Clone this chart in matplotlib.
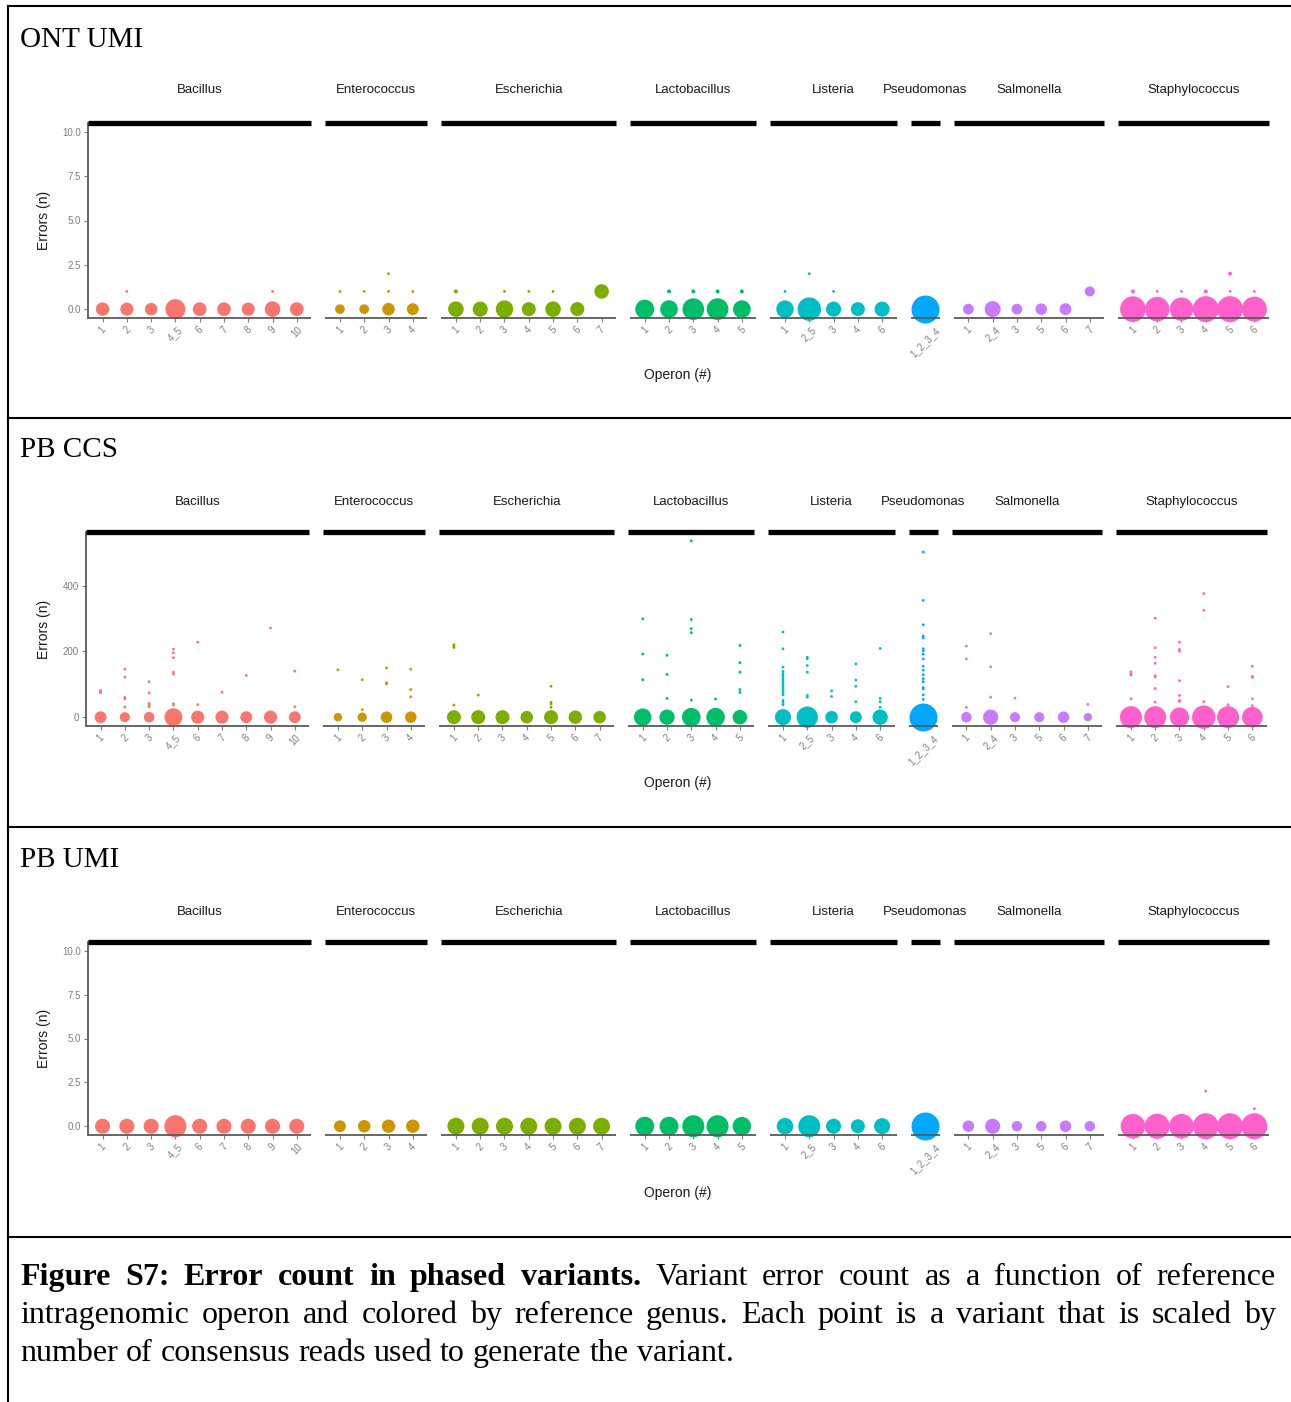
import matplotlib
matplotlib.use("Agg")
import matplotlib.pyplot as plt
from matplotlib.lines import Line2D
import numpy as np

W, H = 1291, 1402

GENERA = ["Bacillus", "Enterococcus", "Escherichia", "Lactobacillus",
          "Listeria", "Pseudomonas", "Salmonella", "Staphylococcus"]
OPERONS = [
    ["1", "2", "3", "4_5", "6", "7", "8", "9", "10"],
    ["1", "2", "3", "4"],
    ["1", "2", "3", "4", "5", "6", "7"],
    ["1", "2", "3", "4", "5"],
    ["1", "2_5", "3", "4", "6"],
    ["1_2_3_4"],
    ["1", "2_4", "3", "5", "6", "7"],
    ["1", "2", "3", "4", "5", "6"],
]
# ggplot default hues
COLORS = ["#F8766D", "#CD9600", "#7CAE00", "#00BE67",
          "#00BFC4", "#00A9FF", "#C77CFF", "#FF61CC"]

# ONT UMI: reads behind the error-free variant of each operon (0 = none)
ONT_ZERO_READS = [
    [23, 22, 20, 51, 24, 24, 22, 31, 24],
    [12, 12, 20, 18],
    [31, 29, 39, 25, 31, 25, 0],
    [46, 40, 60, 60, 40],
    [39, 70, 29, 25, 29],
    [100],
    [15, 33, 15, 17, 18, 0],
    [84, 77, 70, 86, 86, 80],
]
# ONT UMI: variants with errors (genus, operon, errors, reads)
ONT_OTHER = [
    ("Bacillus", "2", 1, 1), ("Bacillus", "9", 1, 1),
    ("Enterococcus", "1", 1, 1), ("Enterococcus", "2", 1, 1),
    ("Enterococcus", "3", 1, 1), ("Enterococcus", "3", 2, 1),
    ("Enterococcus", "4", 1, 1),
    ("Escherichia", "1", 1, 2), ("Escherichia", "3", 1, 1),
    ("Escherichia", "4", 1, 1), ("Escherichia", "5", 1, 1),
    ("Escherichia", "7", 1, 27),
    ("Lactobacillus", "2", 1, 2), ("Lactobacillus", "3", 1, 2),
    ("Lactobacillus", "4", 1, 2), ("Lactobacillus", "5", 1, 2),
    ("Listeria", "1", 1, 1), ("Listeria", "2_5", 2, 1), ("Listeria", "3", 1, 1),
    ("Salmonella", "7", 1, 13),
    ("Staphylococcus", "1", 1, 2), ("Staphylococcus", "2", 1, 1),
    ("Staphylococcus", "3", 1, 1), ("Staphylococcus", "4", 1, 2),
    ("Staphylococcus", "5", 1, 1), ("Staphylococcus", "5", 2, 2),
    ("Staphylococcus", "6", 1, 1),
]

# PB CCS
CCS_ZERO_READS = [
    [18, 13, 14, 41, 22, 22, 18, 22, 18],
    [9, 11, 17, 17],
    [25, 25, 25, 20, 25, 23, 20],
    [39, 30, 44, 44, 27],
    [33, 58, 20, 18, 30],
    [100],
    [14, 30, 13, 13, 17, 9],
    [62, 62, 48, 70, 62, 54],
]
# PB CCS: error counts of the single-read variants, per genus and operon
CCS_ERRORS = [
    [[81, 77, 75], [146, 122, 60, 56, 31], [108, 74, 42, 37, 31],
     [207, 196, 181, 137, 131, 41, 37], [228, 38], [76], [127], [271], [140, 32]],
    [[144], [114, 23], [150, 105, 101], [146, 84, 62]],
    [[220, 216, 212, 37], [67], [], [], [94, 45, 40, 30], [], []],
    [[299, 192, 114], [188, 130, 57], [536, 297, 269, 257, 52], [55],
     [218, 166, 137, 84, 75]],
    [[259, 208, 152, 139, 132, 126, 120, 113, 107, 100, 94, 88, 81, 75, 68, 51, 45, 38],
     [182, 178, 157, 137, 66, 61], [80, 63], [162, 113, 94, 47], [209, 57, 47, 30]],
    [[502, 355, 281, 247, 241, 208, 202, 192, 177, 155, 143, 129, 117, 108,
      90, 86, 68, 54]],
    [[216, 177, 30], [254, 153, 61], [58], [], [], [39]],
    [[138, 132, 128, 56], [301, 211, 182, 164, 126, 122, 87, 46],
     [228, 206, 200, 111, 66, 51, 48], [376, 325, 47], [93, 38],
     [155, 124, 121, 56, 35]],
]

# PB UMI
PB_ZERO_READS = [
    [29, 29, 29, 62, 29, 29, 29, 29, 29],
    [18, 20, 23, 23],
    [37, 37, 37, 37, 37, 37, 37],
    [46, 46, 62, 62, 44],
    [35, 62, 29, 25, 33],
    [100],
    [17, 29, 14, 14, 17, 14],
    [77, 80, 77, 86, 86, 86],
]
PB_OTHER = [
    ("Staphylococcus", "4", 2, 1), ("Staphylococcus", "6", 1, 1),
]

CAPTION = [
    [("Figure S7: Error count in phased variants.", True),
     ("Variant error count as a function of reference", False)],
    [("intragenomic operon and colored by reference genus. Each point is a variant that is scaled by", False)],
    [("number of consensus reads used to generate the variant.", False)],
]

GREY = "#7f7f7f"
SANS = "Liberation Sans"
SERIF = "Liberation Serif"
CAP_SIZE = 23


def fig_box(x, y_top, y_bot, w):
    return [x / W, 1 - y_bot / H, w / W, (y_bot - y_top) / H]


def size_of(reads):
    # area proportional to number of consensus reads
    return 4.06 * np.asarray(reads, dtype=float)


def draw_panel(fig, title, y_title, y_strip, y_top, y_bot, y_xlab, x0,
               ylim, yticks, yticklabels, zero_reads, other=(), errors=None):
    unit, gap = 24.28, 14
    fig.text(20 / W, 1 - y_title / H, title, family=SERIF, size=21, va="center")
    x = x0
    for g, genus in enumerate(GENERA):
        ops = OPERONS[g]
        w = (len(ops) + 0.2) * unit
        ax = fig.add_axes(fig_box(x, y_top, y_bot, w))
        ax.patch.set_alpha(0)

        bx, by, bs = [], [], []
        for i, r in enumerate(zero_reads[g]):
            if r:
                bx.append(i); by.append(0); bs.append(r)
        sx, sy, ss = [], [], []
        for gen, op, err, r in other:
            if gen == genus:
                tx, ty, ts = (bx, by, bs) if r > 5 else (sx, sy, ss)
                tx.append(ops.index(op)); ty.append(err); ts.append(r)
        if errors is not None:
            for i, errs in enumerate(errors[g]):
                for e in errs:
                    sx.append(i); sy.append(e); ss.append(1)
        ax.scatter(bx, by, s=size_of(bs), c=COLORS[g], linewidths=0,
                   clip_on=False, zorder=2)
        if sx:
            ax.scatter(sx, sy, s=size_of(ss), c=COLORS[g], linewidths=0,
                       clip_on=False, zorder=2)

        ax.set_xlim(-0.6, len(ops) - 0.4)
        ax.set_ylim(*ylim)
        ax.set_xticks(range(len(ops)))
        ax.set_xticklabels(ops, rotation=45, ha="center", va="top")
        ax.tick_params(axis="x", length=3, width=0.8, color=GREY,
                       labelsize=7, labelcolor=GREY, pad=2)
        for lab in ax.get_xticklabels():
            lab.set_family(SANS)

        ax.spines["right"].set_visible(False)
        ax.spines["top"].set_color("black")
        ax.spines["top"].set_linewidth(3.8)
        ax.spines["top"].set_capstyle("butt")
        ax.spines["bottom"].set_color("#5a5a5a")
        ax.spines["bottom"].set_linewidth(1.3)
        ax.spines["bottom"].set_capstyle("butt")
        if g == 0:
            ax.spines["left"].set_color("#5a5a5a")
            ax.spines["left"].set_linewidth(1.3)
            ax.set_yticks(yticks)
            ax.set_yticklabels(yticklabels)
            ax.tick_params(axis="y", length=3, width=0.8, color=GREY,
                           labelsize=7, labelcolor=GREY, pad=2)
            for lab in ax.get_yticklabels():
                lab.set_family(SANS)
        else:
            ax.spines["left"].set_visible(False)
            ax.set_yticks([])

        fig.text((x + w / 2) / W, 1 - y_strip / H, genus, family=SANS,
                 size=9.5, ha="center", va="center", color="#1a1a1a")
        x += w + gap

    fig.text(44 / W, 1 - (y_top + y_bot) / 2 / H, "Errors (n)", family=SANS,
             size=10, rotation=90, ha="center", va="center", color="#1a1a1a")
    fig.text(678 / W, 1 - y_xlab / H, "Operon (#)", family=SANS, size=10,
             ha="center", va="center", color="#1a1a1a")


def caption_line(fig, renderer, parts, y_base, justify):
    words = []
    for text, bold in parts:
        for wd in text.split():
            words.append((wd, bold))
    texts = [fig.text(0, 1 - y_base / H, wd, family=SERIF, size=CAP_SIZE,
                      weight="bold" if bold else "normal", va="baseline")
             for wd, bold in words]
    widths = [t.get_window_extent(renderer).width for t in texts]
    left, right = 20, 1276
    if justify and len(texts) > 1:
        space = (right - left - sum(widths)) / (len(texts) - 1)
    else:
        space = 0.25 * CAP_SIZE * 100 / 72
    x = left
    for t, wdt in zip(texts, widths):
        t.set_x(x / W)
        x += wdt + space


fig = plt.figure(figsize=(W / 100, H / 100), dpi=100)

draw_panel(fig, "ONT UMI", 40, 90, 123, 318, 375, 88, (-0.5, 10.5),
           [0, 2.5, 5, 7.5, 10], ["0.0", "2.5", "5.0", "7.5", "10.0"],
           ONT_ZERO_READS, ONT_OTHER)
draw_panel(fig, "PB CCS", 450, 502, 532, 726, 783, 86, (-26.8, 563),
           [0, 200, 400], ["0", "200", "400"], CCS_ZERO_READS,
           errors=CCS_ERRORS)
draw_panel(fig, "PB UMI", 860, 912, 942, 1135, 1193, 88, (-0.5, 10.5),
           [0, 2.5, 5, 7.5, 10], ["0.0", "2.5", "5.0", "7.5", "10.0"],
           PB_ZERO_READS, PB_OTHER)

renderer = fig.canvas.get_renderer()
for i, parts in enumerate(CAPTION):
    caption_line(fig, renderer, parts, 1285 + 38 * i, justify=i < 2)

# document frame
for y in [6, 418, 827, 1237]:
    fig.add_artist(Line2D([8 / W, 1], [1 - y / H] * 2, transform=fig.transFigure,
                          color="black", lw=1.5))
fig.add_artist(Line2D([8 / W] * 2, [1 - 6 / H, 0], transform=fig.transFigure,
                      color="black", lw=1.5))

fig.savefig("out.png", dpi=100)
